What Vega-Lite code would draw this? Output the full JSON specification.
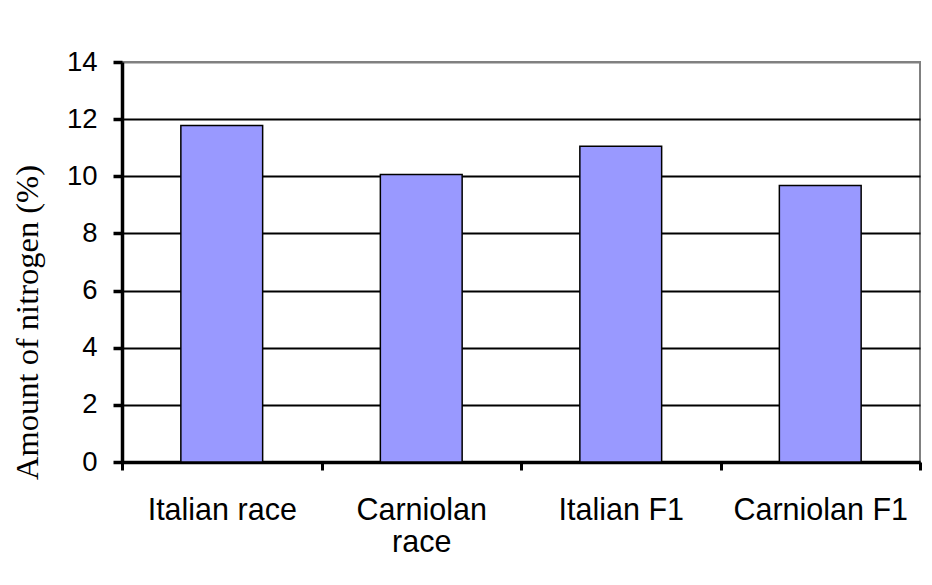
{
  "$schema": "https://vega.github.io/schema/vega-lite/v6.json",
  "autosize": "none",
  "width": 798,
  "height": 400,
  "padding": {"left": 122, "top": 62, "right": 12, "bottom": 123},
  "background": "white",
  "config": {
    "view": {"stroke": "#808080", "strokeWidth": 2},
    "axis": {"labelColor": "black", "labelFont": "Liberation Sans"}
  },
  "data": {
    "values": [
      {"group": "Italian race", "nitrogen": 11.78},
      {"group": "Carniolan race", "nitrogen": 10.06},
      {"group": "Italian F1", "nitrogen": 11.05},
      {"group": "Carniolan F1", "nitrogen": 9.68}
    ]
  },
  "mark": {"type": "bar", "color": "#9999FF", "stroke": "black", "strokeWidth": 1.5, "width": {"band": 0.41}},
  "encoding": {
    "x": {
      "field": "group",
      "type": "nominal",
      "sort": null,
      "scale": {"paddingInner": 0, "paddingOuter": 0},
      "axis": {
        "title": null,
        "labelAngle": 0,
        "labelFontSize": 30.5,
        "labelPadding": 25,
        "labelLineHeight": 32,
        "labelExpr": "datum.label == 'Carniolan race' ? ['Carniolan', 'race'] : datum.label",
        "tickBand": "extent",
        "tickSize": 8,
        "tickWidth": 3,
        "tickColor": "black",
        "domainColor": "black",
        "domainWidth": 3.5,
        "grid": false
      }
    },
    "y": {
      "field": "nitrogen",
      "type": "quantitative",
      "scale": {"domain": [0, 14]},
      "axis": {
        "title": "Amount of nitrogen (%)",
        "titleFont": "Liberation Serif",
        "titleFontSize": 32.5,
        "titleFontWeight": "normal",
        "titleColor": "black",
        "titleX": -95,
        "titleY": 260,
        "titleBaseline": "middle",
        "titleAlign": "center",
        "values": [0, 2, 4, 6, 8, 10, 12, 14],
        "labelFontSize": 27.5,
        "labelPadding": 16,
        "tickSize": 9,
        "tickWidth": 3.5,
        "tickColor": "black",
        "domainColor": "black",
        "domainWidth": 3.5,
        "grid": true,
        "gridColor": {"condition": {"test": "datum.value == 14", "value": "#808080"}, "value": "black"},
        "gridWidth": 1.8,
        "gridOpacity": 1
      }
    }
  }
}
